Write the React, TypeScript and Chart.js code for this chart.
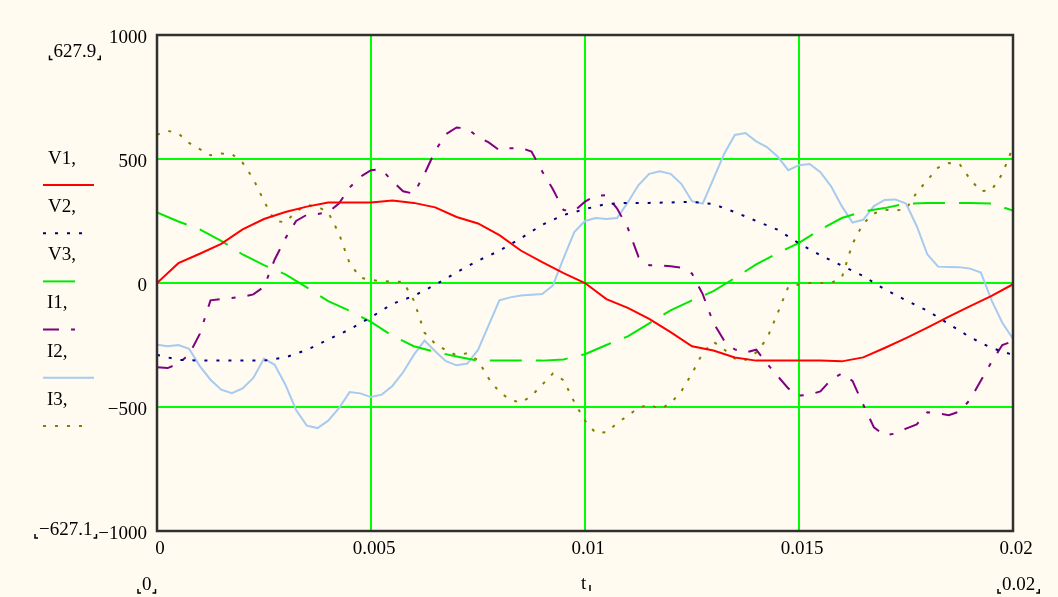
import React, { useEffect, useRef } from 'react';
import { Chart, registerables } from 'chart.js';

Chart.register(...registerables);

// time grid (s) for the voltage series
const tV = [0, 0.0005, 0.001, 0.0015, 0.002, 0.0025, 0.003, 0.0035, 0.004, 0.0045, 0.005, 0.0055, 0.006, 0.0065, 0.007, 0.0075, 0.008, 0.0085, 0.009, 0.0095, 0.01, 0.0105, 0.011, 0.0115, 0.012, 0.0125, 0.013, 0.0135, 0.014, 0.0145, 0.015, 0.0155, 0.016, 0.0165, 0.017, 0.0175, 0.018, 0.0185, 0.019, 0.0195, 0.02];

const V1 = [0, 80, 118, 158, 216, 258, 286, 308, 325, 325, 325, 333, 323, 305, 266, 240, 193, 131, 84, 40, 0, -65, -100, -145, -198, -255, -272, -300, -313, -313, -313, -313, -316, -300, -262, -222, -180, -136, -93, -52, -5];
const V2 = [-290, -310, -313, -313, -313, -313, -300, -270, -228, -187, -138, -84, -52, -7, 43, 90, 130, 180, 235, 274, 298, 319, 323, 323, 325, 327, 318, 286, 250, 215, 160, 112, 70, 28, -25, -70, -112, -165, -219, -262, -290];
const V3 = [285, 248, 216, 170, 115, 72, 35, -18, -73, -112, -157, -213, -255, -278, -296, -313, -313, -313, -313, -308, -287, -250, -215, -163, -110, -70, -33, 20, 75, 120, 162, 216, 262, 289, 302, 320, 323, 323, 323, 320, 292];

// time grid (s) for the current series
const tI = [0, 0.00025, 0.0005, 0.00075, 0.001, 0.00125, 0.0015, 0.00175, 0.002, 0.00225, 0.0025, 0.00275, 0.003, 0.00325, 0.0035, 0.00375, 0.004, 0.00425, 0.0045, 0.00475, 0.005, 0.00525, 0.0055, 0.00575, 0.006, 0.00625, 0.0065, 0.00675, 0.007, 0.00725, 0.0075, 0.00775, 0.008, 0.00825, 0.0085, 0.00875, 0.009, 0.00925, 0.0095, 0.00975, 0.01, 0.01025, 0.0105, 0.01075, 0.011, 0.01125, 0.0115, 0.01175, 0.012, 0.01225, 0.0125, 0.01275, 0.013, 0.01325, 0.0135, 0.01375, 0.014, 0.01425, 0.0145, 0.01475, 0.015, 0.01525, 0.0155, 0.01575, 0.016, 0.01625, 0.0165, 0.01675, 0.017, 0.01725, 0.0175, 0.01775, 0.018, 0.01825, 0.0185, 0.01875, 0.019, 0.01925, 0.0195, 0.01975, 0.02];

const I1 = [-340, -343, -325, -288, -205, -70, -65, -60, -56, -46, -15, 95, 180, 250, 275, 278, 285, 320, 385, 428, 455, 458, 410, 370, 360, 440, 533, 600, 627, 623, 588, 567, 535, 543, 545, 530, 450, 378, 294, 290, 328, 352, 354, 300, 222, 105, 72, 71, 68, 62, 38, -45, -161, -232, -268, -280, -269, -325, -375, -425, -454, -450, -437, -390, -365, -395, -490, -582, -615, -607, -587, -570, -521, -526, -533, -518, -470, -393, -318, -250, -235];
const I2 = [-249, -255, -250, -265, -335, -390, -430, -444, -425, -383, -305, -330, -410, -512, -575, -585, -555, -505, -440, -445, -460, -450, -415, -360, -290, -232, -275, -315, -332, -325, -270, -170, -70, -58, -50, -47, -44, -10, 100, 205, 250, 262, 258, 262, 325, 395, 440, 450, 440, 400, 330, 320, 420, 520, 597, 605, 571, 548, 510, 455, 475, 480, 447, 390, 310, 244, 255, 310, 335, 337, 320, 230, 115, 66, 65, 64, 58, 42, -70, -160, -225];
const I3 = [598, 614, 603, 565, 540, 515, 522, 520, 485, 420, 330, 250, 245, 288, 315, 308, 285, 200, 80, 22, 12, 7, 6, 5, -70, -200, -245, -271, -292, -283, -312, -385, -440, -470, -483, -455, -410, -365, -392, -480, -555, -605, -602, -565, -535, -503, -490, -508, -485, -437, -365, -282, -237, -268, -305, -310, -280, -225, -122, -15, -6, 0, 0, 0, 22, 158, 240, 280, 296, 292, 298, 365, 415, 465, 484, 480, 418, 370, 375, 440, 548];

const xTicks = [0, 0.005, 0.01, 0.015, 0.02];
const xTickLabels = ['0', '0.005', '0.01', '0.015', '0.02'];
const yTicks = [-1000, -500, 0, 500, 1000];
const yTickLabels = ['\u22121000', '\u2212500', '0', '500', '1000'];
const legendNames = ['V1', 'V2', 'V3', 'I1', 'I2', 'I3'];
const yRangeLabels = ['627.9', '\u2212627.1'];
const xRangeLabels = ['0', '0.02'];
const xVarName = 't';

const FONT = '"Liberation Serif", "Times New Roman", serif';
const BG = '#FFFBF0';
const GRID = '#00FF00';

const lineStyles = [
  { color: '#FF0000', dash: [] as number[], legendLen: 51 },
  { color: '#000080', dash: [3, 9], legendLen: 42 },
  { color: '#00E800', dash: [32, 14], legendLen: 35 },
  { color: '#800080', dash: [16, 12, 4, 12], legendLen: 35 },
  { color: '#A6CAF0', dash: [] as number[], legendLen: 51 },
  { color: '#808000', dash: [3, 9], legendLen: 42 },
];

function drawMarked(ctx: CanvasRenderingContext2D, text: string, x: number, base: number) {
  ctx.fillText(text, x, base);
  const w = ctx.measureText(text).width;
  ctx.save();
  ctx.strokeStyle = '#000';
  ctx.lineWidth = 1.5;
  ctx.setLineDash([]);
  ctx.beginPath();
  ctx.moveTo(x - 4, base - 1);
  ctx.lineTo(x - 4, base + 3);
  ctx.lineTo(x - 1, base + 3);
  ctx.moveTo(x + w + 1, base + 3);
  ctx.lineTo(x + w + 4, base + 3);
  ctx.lineTo(x + w + 4, base - 1);
  ctx.stroke();
  ctx.restore();
}

export default function App() {
  const ref = useRef<HTMLCanvasElement>(null);

  useEffect(() => {
    const canvas = ref.current;
    if (!canvas) return;
    const series: [number[], number[]][] = [
      [tV, V1], [tV, V2], [tV, V3], [tI, I1], [tI, I2], [tI, I3],
    ];
    const datasets = series.map(([xs, ys], i) => ({
      label: legendNames[i],
      data: xs.map((x, k) => ({ x, y: ys[k] })),
      borderColor: lineStyles[i].color,
      borderDash: lineStyles[i].dash,
      borderWidth: 2,
      pointRadius: 0,
      tension: 0,
      fill: false,
    }));

    const plugin = {
      id: 'mathcadDecor',
      beforeDraw(chart: any) {
        const ctx = chart.ctx as CanvasRenderingContext2D;
        ctx.save();
        ctx.fillStyle = BG;
        ctx.fillRect(0, 0, chart.width, chart.height);
        ctx.restore();
      },
      afterDraw(chart: any) {
        const ctx = chart.ctx as CanvasRenderingContext2D;
        const a = chart.chartArea;
        ctx.save();
        // frame
        ctx.setLineDash([]);
        ctx.strokeStyle = '#303030';
        ctx.lineWidth = 2.5;
        ctx.strokeRect(a.left, a.top, a.right - a.left, a.bottom - a.top);

        // legend
        ctx.font = `19px ${FONT}`;
        ctx.fillStyle = '#000';
        ctx.textBaseline = 'alphabetic';
        ctx.textAlign = 'left';
        legendNames.forEach((name, i) => {
          const base = 163.5 + 48.3 * i;
          ctx.fillText(name + ',', name.startsWith('I') ? 47 : 48, base);
          const ly = 185 + 48.2 * i;
          ctx.save();
          ctx.strokeStyle = lineStyles[i].color;
          ctx.lineWidth = 2;
          ctx.setLineDash(lineStyles[i].dash);
          ctx.beginPath();
          ctx.moveTo(43, ly);
          ctx.lineTo(43 + lineStyles[i].legendLen, ly);
          ctx.stroke();
          ctx.restore();
        });

        // range markers
        drawMarked(ctx, yRangeLabels[0], 53.5, 56.5);
        drawMarked(ctx, yRangeLabels[1], 39, 535);
        drawMarked(ctx, xRangeLabels[0], 142, 590);
        drawMarked(ctx, xRangeLabels[1], 1002, 590);
        ctx.fillText(xVarName, 581, 589);
        ctx.setLineDash([]);
        ctx.strokeStyle = '#000';
        ctx.lineWidth = 1.5;
        ctx.beginPath();
        ctx.moveTo(590, 585);
        ctx.lineTo(590, 591);
        ctx.stroke();
        ctx.restore();
      },
    };

    const edgeTransparent = (lo: number, hi: number) => (c: any) =>
      c.tick && (c.tick.value === lo || c.tick.value === hi) ? 'rgba(0,0,0,0)' : GRID;

    const chart = new Chart(canvas, {
      type: 'line',
      data: { datasets },
      options: {
        animation: false,
        responsive: false,
        maintainAspectRatio: false,
        events: [],
        layout: { padding: { left: 0, right: 45, top: 35, bottom: 0 } },
        plugins: { legend: { display: false }, tooltip: { enabled: false }, title: { display: false } },
        scales: {
          x: {
            type: 'linear',
            min: 0,
            max: 0.02,
            border: { display: false },
            grid: { color: edgeTransparent(0, 0.02), lineWidth: 2, drawTicks: false },
            ticks: {
              autoSkip: false,
              maxRotation: 0,
              padding: 7,
              labelOffset: 3,
              color: '#000',
              font: { family: FONT, size: 19 },
              callback: (v: any) => {
                const i = xTicks.indexOf(Number(v));
                return i >= 0 ? xTickLabels[i] : '';
              },
            },
            afterBuildTicks: (s: any) => { s.ticks = xTicks.map((value) => ({ value })); },
            afterFit: (s: any) => { s.height = 66; },
          },
          y: {
            type: 'linear',
            min: -1000,
            max: 1000,
            border: { display: false },
            grid: { color: edgeTransparent(-1000, 1000), lineWidth: 2, drawTicks: false },
            ticks: {
              autoSkip: false,
              padding: 10,
              labelOffset: 3,
              color: '#000',
              font: { family: FONT, size: 19 },
              callback: (v: any) => {
                const i = yTicks.indexOf(Number(v));
                return i >= 0 ? yTickLabels[i] : '';
              },
            },
            afterBuildTicks: (s: any) => { s.ticks = yTicks.map((value) => ({ value })); },
            afterFit: (s: any) => { s.width = 157; },
          },
        },
      },
      plugins: [plugin],
    } as any);
    return () => chart.destroy();
  }, []);

  return (
    <div style={{ position: 'fixed', left: 0, top: 0, width: 1058, height: 597, background: BG }}>
      <canvas ref={ref} width={1058} height={597} style={{ display: 'block', width: 1058, height: 597 }} />
    </div>
  );
}
